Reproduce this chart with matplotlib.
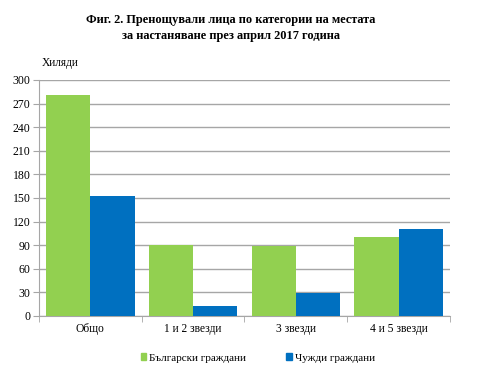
import numpy as np
import matplotlib.pyplot as plt
from matplotlib.patches import Patch

categories = ['Общо', '1 и 2 звезди', '3 звезди', '4 и 5 звезди']
bulgarians = [281, 90, 89, 100.5]
foreigners = [152.5, 12.3, 29, 110]
yticks = list(range(0, 301, 30))

green = '#92d050'
blue = '#0070c0'
grid_c = '#a6a6a6'

plt.rcParams['font.family'] = ['Liberation Serif', 'DejaVu Serif']

fig = plt.figure(figsize=(5, 3.77), dpi=100)
ax = fig.add_axes([39 / 500, 1 - 316 / 377, 411 / 500, 236 / 377])

x = np.arange(len(categories))
w = 0.43
ax.bar(x - w / 2, bulgarians, w, color=green, zorder=3)
ax.bar(x + w / 2, foreigners, w, color=blue, zorder=3)

ax.set_xlim(-0.5, len(categories) - 0.5)
ax.set_ylim(0, 300)
ax.set_yticks(yticks)
ax.yaxis.grid(True, color=grid_c, linewidth=1, zorder=0)
ax.set_xticks(x)
ax.set_xticklabels(categories, fontsize=8.3)
ax.tick_params(axis='x', length=0, pad=5)
ax.set_xticks(np.arange(-0.5, len(categories), 1), minor=True)
ax.tick_params(axis='x', which='minor', length=4, color=grid_c)
ax.tick_params(axis='y', length=4, color=grid_c, labelsize=8.5, pad=2)
for s in ['top', 'right']:
    ax.spines[s].set_visible(False)
ax.spines['left'].set_color(grid_c)
ax.spines['bottom'].set_color(grid_c)

fig.text(231 / 500, 1 - 20 / 377, 'Фиг. 2. Пренощували лица по категории на местата',
         ha='center', va='center', fontsize=8.9, fontweight='bold')
fig.text(231 / 500, 1 - 36 / 377, 'за настаняване през април 2017 година',
         ha='center', va='center', fontsize=8.9, fontweight='bold')
fig.text(42 / 500, 1 - 63 / 377, 'Хиляди', ha='left', va='center', fontsize=8.3)

handles = [Patch(color=green, label='Български граждани'),
           Patch(color=blue, label='Чужди граждани')]
fig.legend(handles=handles, loc='center', bbox_to_anchor=(258 / 500, 1 - 358 / 377),
           ncol=2, frameon=False, fontsize=8, handlelength=0.5, handleheight=0.5,
           handletextpad=0.3, columnspacing=3.6)

fig.savefig('out.png', dpi=100)
